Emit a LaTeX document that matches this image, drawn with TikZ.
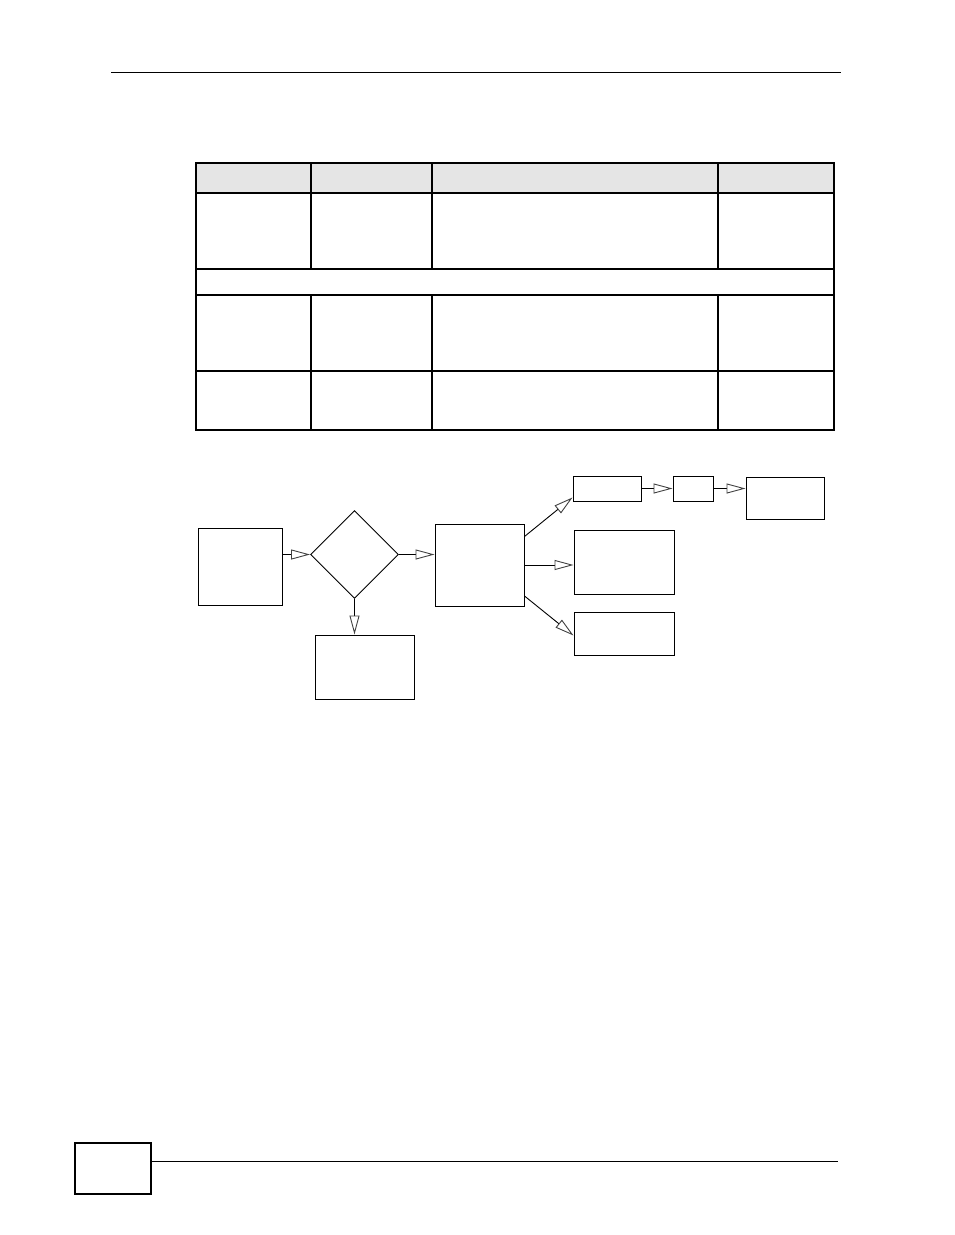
\documentclass[tikz,border=0pt]{standalone}
\usetikzlibrary{shapes.geometric,arrows.meta}
\begin{document}
\begin{tikzpicture}[x=1pt,y=-1pt,
  box/.style={draw=black,line width=1pt,rectangle,inner sep=0pt},
  dec/.style={draw=black,line width=0.9pt,diamond,inner sep=0pt,minimum width=88pt,minimum height=88pt},
  arr/.style={draw=black,line width=0.9pt,-{Triangle[open,length=19pt,width=10pt,color=black!75]}},
  tab/.style={draw=black,line width=1.1pt},
  hdr/.style={fill=black!10}]
\useasboundingbox (0,0) rectangle (954,1235);
% top rule
\draw[line width=0.9pt] (111,72) -- (841,72);
% table
\fill[hdr] (196,163) rectangle (834,193);
\draw[tab] (196,163) rectangle (834,430);
\draw[tab] (196,193) -- (834,193);
\draw[tab] (196,269) -- (834,269);
\draw[tab] (196,295) -- (834,295);
\draw[tab] (196,371) -- (834,371);
\foreach \cx in {311,432,718} {
  \draw[tab] (\cx,163) -- (\cx,269);
  \draw[tab] (\cx,295) -- (\cx,430);
}
% flowchart nodes
\node[box,minimum width=84pt,minimum height=77pt] (b1) at (240,566.5) {};
\node[dec] (dia) at (354.5,554.5) {};
\node[box,minimum width=99pt,minimum height=64pt] (below) at (364.5,667) {};
\node[box,minimum width=89pt,minimum height=82pt] (mid) at (479.5,565) {};
\node[box,minimum width=68pt,minimum height=25pt] (A) at (607,488.5) {};
\node[box,minimum width=40pt,minimum height=25pt] (B) at (693,488.5) {};
\node[box,minimum width=78pt,minimum height=42pt] (C) at (785,498) {};
\node[box,minimum width=100pt,minimum height=64pt] (D) at (624,562) {};
\node[box,minimum width=100pt,minimum height=43pt] (E) at (624,633.5) {};
% connectors
\draw[arr] (b1.east |- dia.west) -- (dia.west);
\draw[arr] (dia.east) -- (mid.west |- dia.east);
\draw[arr] (dia.south) -- (below.north -| dia.south);
\draw[arr] ([yshift=-13pt]mid.north east) -- ([yshift=4pt]A.south west);
\draw[arr] (mid.east) -- (D.west |- mid.east);
\draw[arr] ([yshift=-31pt]mid.east) -- ([yshift=-2pt]E.west);
\draw[arr] (A.east) -- (B.west);
\draw[arr] (B.east) -- (C.west |- B.east);
% footer
\draw[line width=2pt] (75,1143) rectangle (151,1194);
\draw[line width=0.9pt] (151,1161) -- (838,1161);
\end{tikzpicture}
\end{document}
